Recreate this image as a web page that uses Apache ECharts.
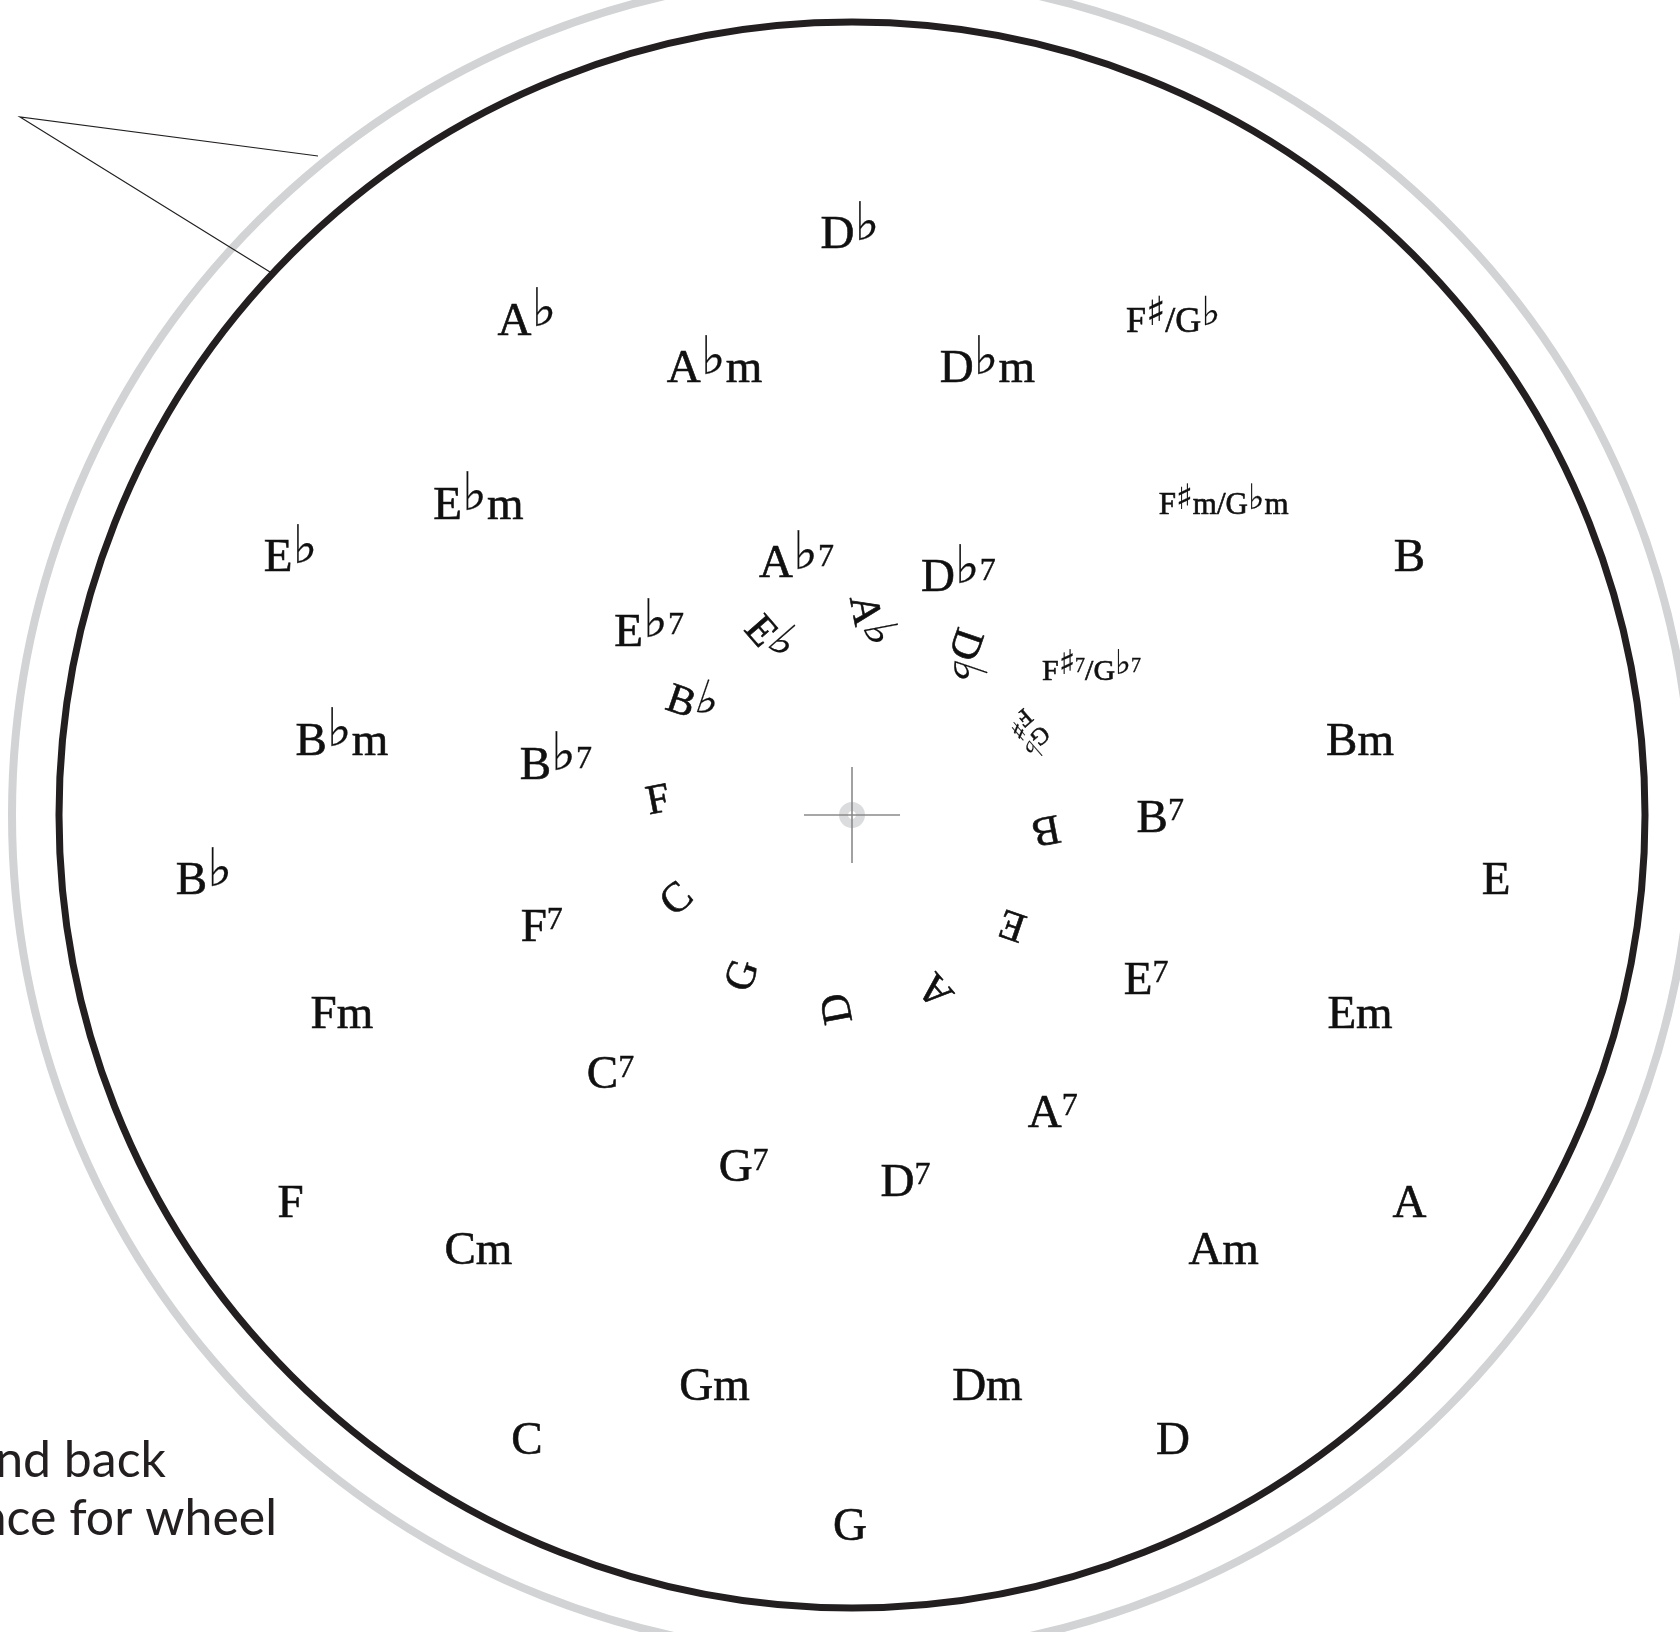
<!DOCTYPE html>
<html>
<head>
<meta charset="utf-8">
<script src="https://cdn.jsdelivr.net/npm/echarts/dist/echarts.min.js"></script>
<style>
html,body{margin:0;padding:0;background:#ffffff;}
#chart{width:1680px;height:1632px;}
</style>
</head>
<body>
<div id="chart"></div>
<script>
// ---- data: chord wheel (circle of fifths) ----
const majorChords   = ['D♭','F♯/G♭','B','E','A','D','G','C','F','B♭','E♭','A♭'];
const majorAngles   = [0,30,60,90,120,150,180,210,240,270,300,330];
const minorChords   = ['D♭m','F♯m/G♭m','Bm','Em','Am','Dm','Gm','Cm','Fm','B♭m','E♭m','A♭m'];
const minorAngles   = [15,45,75,105,135,165,195,225,255,285,315,345];
const seventhChords = ['D♭7','F♯7/G♭7','B7','E7','A7','D7','G7','C7','F7','B♭7','E♭7','A♭7'];
const seventhAngles = [20,50,80,110,140,170,200,230,260,290,320,350];
const innerKeys     = ['D♭','F♯/G♭','B','E','A','D','G','C','F','B♭','E♭','A♭'];
const innerAngles   = [34,64,94,124,154,184,214,244,274,304,334,4];
const noteLines     = ['nd back','nce for wheel'];

// ---- styles ----
const INK = '#231f20';
const TXT = '#111011';
const GRAY = '#d1d3d4';
const SERIF = "'Liberation Serif','DejaVu Serif',serif";
const ACC = "'DejaVu Sans','DejaVu Serif',sans-serif";
const CENTER = [852, 815];

function richFor(sz){
  const r = {};
  r['m'+sz] = {fontFamily:SERIF, fontSize:sz, lineHeight:sz, height:sz, color:TXT,
               textBorderColor:TXT, textBorderWidth:0.6, opacity:1};
  r['a'+sz] = {fontFamily:ACC, fontSize:Math.round(sz*1.12), lineHeight:Math.round(sz*0.5),
               height:Math.round(sz*0.58), verticalAlign:'top', color:TXT,
               textBorderColor:TXT, textBorderWidth:0.2, opacity:1};
  r['s'+sz] = {fontFamily:SERIF, fontSize:Math.round(sz*0.68), lineHeight:Math.round(sz*0.68),
               height:Math.round(sz*0.68), verticalAlign:'top', color:TXT,
               textBorderColor:TXT, textBorderWidth:0.4, opacity:1};
  return r;
}
const SIZES = [47, 42, 36, 31, 30, 24];
let RICH = {};
SIZES.forEach(s => Object.assign(RICH, richFor(s)));

function richText(txt, sz){
  let out = '', buf = '';
  const flush = () => { if (buf) { out += '{m'+sz+'|'+buf+'}'; buf=''; } };
  for (const ch of txt) {
    if (ch === '♭' || ch === '♯') { flush(); out += '{a'+sz+'|'+ch+'}'; }
    else if (ch === '7') { flush(); out += '{s'+sz+'|7}'; }
    else buf += ch;
  }
  flush();
  return out;
}
// inner wheel: a two-name key is stacked on two lines
function stackedText(txt, sz){
  const parts = txt.split('/');
  return parts.slice().reverse().map(p => richText(p, sz)).join('\n');
}

const polars = [
  {center:CENTER, radius:793},          // black rim
  {center:CENTER, radius:840},          // gray outer rim
  {center:[850, 882], radius:646},      // majors
  {center:[851, 879], radius:527},      // minors
  {center:[851, 874], radius:314},      // sevenths
  {center:CENTER, radius:194}           // inner rotating keys
];

const angleAxes = polars.map((p, i) => ({
  polarIndex:i, type:'value', min:0, max:360, startAngle:90, clockwise:true,
  show: i < 2,
  axisLine:{show: i < 2, lineStyle:{color: i===0 ? INK : GRAY, width: i===0 ? 7 : 8}},
  axisTick:{show:false}, axisLabel:{show:false}, splitLine:{show:false}
}));
const radiusAxes = polars.map((p, i) => ({
  polarIndex:i, type:'value', min:0, max:1, show:false,
  axisLine:{show:false}, axisTick:{show:false}, axisLabel:{show:false}, splitLine:{show:false}
}));

function ringSeries(polarIndex, names, angles, normalSize, slashSize, rotFn){
  return {
    type:'scatter', coordinateSystem:'polar', polarIndex:polarIndex,
    symbolSize:0, silent:true,
    itemStyle:{color:TXT, opacity:1},
    emphasis:{disabled:true},
    data: names.map((n, k) => {
      const item = {name:n, value:[1, angles[k]]};
      if (rotFn) item.label = {rotate: rotFn(angles[k])};
      return item;
    }),
    label:{
      show:true, position:'inside', align:'center', verticalAlign:'middle',
      color:TXT, opacity:1, textBorderWidth:0,
      formatter: p => {
        const slash = p.name.indexOf('/') >= 0;
        if (slash && rotFn) return stackedText(p.name, slashSize);
        return richText(p.name, slash ? slashSize : normalSize);
      },
      rich: RICH
    }
  };
}

function innerRotate(theta){
  let r = -(theta + 75);
  while (r < -180) r += 360;
  while (r > 180) r -= 360;
  return r;
}

const series = [
  ringSeries(2, majorChords, majorAngles, 47, 36),
  ringSeries(3, minorChords, minorAngles, 47, 31),
  ringSeries(4, seventhChords, seventhAngles, 47, 30),
  ringSeries(5, innerKeys, innerAngles, 42, 24, innerRotate),
  { // centre pivot ring
    type:'scatter', coordinateSystem:'polar', polarIndex:5, silent:true,
    data:[[0,0]], symbol:'circle', symbolSize:17,
    itemStyle:{color:'rgba(0,0,0,0)', borderColor:GRAY, borderWidth:9},
    z:1
  }
];

const NOTE_FONT = "50px Lato, 'DejaVu Sans', sans-serif";
const graphic = [
  {type:'line', z:10, shape:{x1:CENTER[0]-48, y1:CENTER[1], x2:CENTER[0]+48, y2:CENTER[1]}, style:{stroke:'#8a8a8a', lineWidth:1.6}},
  {type:'line', z:10, shape:{x1:CENTER[0], y1:CENTER[1]-48, x2:CENTER[0], y2:CENTER[1]+48}, style:{stroke:'#8a8a8a', lineWidth:1.6}},
  {type:'polyline', z:10, shape:{points:[[318,156],[20,117],[270,272]]}, style:{stroke:INK, lineWidth:1.2, fill:null}},
  {type:'text', z:10, x:166, y:1461, style:{text:noteLines[0], font:NOTE_FONT, fill:INK, align:'right', verticalAlign:'middle'}},
  {type:'text', z:10, x:277, y:1519, style:{text:noteLines[1], font:NOTE_FONT, fill:INK, align:'right', verticalAlign:'middle'}}
];

const chart = echarts.init(document.getElementById('chart'), null, {renderer:'canvas'});
chart.setOption({
  backgroundColor:'#ffffff',
  animation:false,
  polar: polars,
  angleAxis: angleAxes,
  radiusAxis: radiusAxes,
  series: series,
  graphic: graphic
});
</script>
</body>
</html>
